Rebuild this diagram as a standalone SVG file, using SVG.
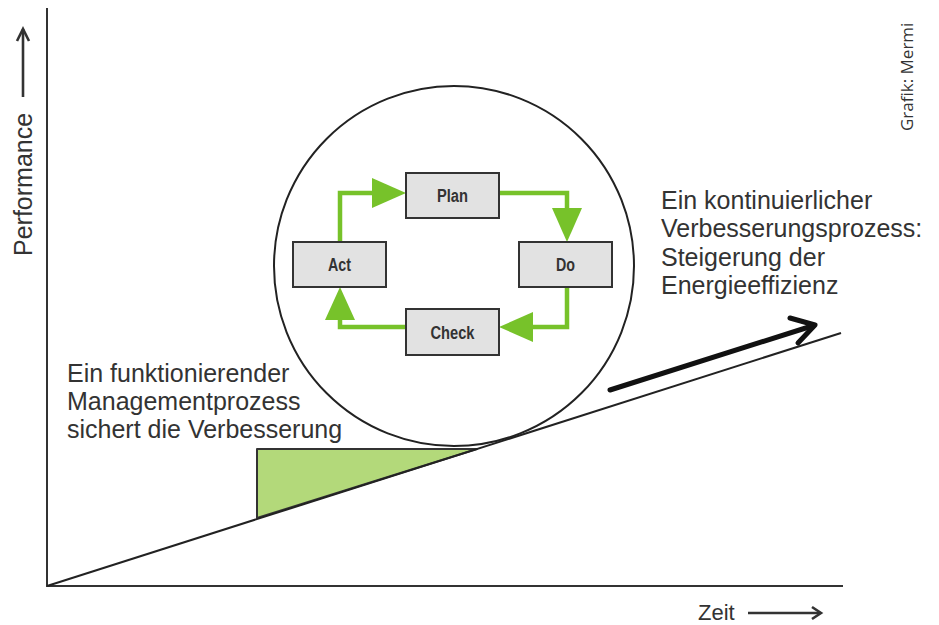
<svg xmlns="http://www.w3.org/2000/svg" width="939" height="625" viewBox="0 0 939 625">
<style>
.lbl{font-family:"Liberation Sans",Arial,sans-serif;font-size:25px;fill:#333}
.box{fill:#e2e2e2;stroke:#333;stroke-width:2}
.bt{font-family:"Liberation Sans",Arial,sans-serif;font-size:18px;font-weight:bold;fill:#333;text-anchor:middle}
.g{fill:none;stroke:#77c22a;stroke-width:4.5}
.gh{fill:#77c22a}
.ax{fill:none;stroke:#333;stroke-width:2}
.ar{fill:none;stroke:#333;stroke-width:2.6}
</style>
<rect width="939" height="625" fill="#fff"/>
<g id="axes">
<polyline class="ax" points="47,8 47,586 843,586"/>
<line class="ar" x1="23" y1="97" x2="23" y2="29"/>
<polyline class="ar" points="17,41 23,29 29,41"/>
<text class="lbl" transform="translate(32,256) rotate(-90)">Performance</text>
<text class="lbl" x="698" y="620" style="font-size:22px">Zeit</text>
<line class="ar" x1="748" y1="613" x2="820" y2="613"/>
<polyline class="ar" points="812,607 821,613 812,619"/>
</g>
<g id="wedge">
<polygon points="257,449 477,449 257,518" fill="#b3d97a" stroke="#333" stroke-width="2" stroke-linejoin="round"/>
</g>
<g id="trend">
<line x1="47" y1="586" x2="841" y2="333" stroke="#222" stroke-width="2"/>
</g>
<g id="circle">
<circle cx="454" cy="266" r="180" fill="none" stroke="#222" stroke-width="2"/>
</g>
<g id="connectors">
<path class="g" d="M340,242 V193 H374"/>
<polygon class="gh" points="406,193 372,178 372,208"/>
<path class="g" d="M499,193 H567 V210"/>
<polygon class="gh" points="567,242 552,208 582,208"/>
<path class="g" d="M567,287 V327 H532"/>
<polygon class="gh" points="499,327 533,312 533,342"/>
<path class="g" d="M406,327 H340 V318"/>
<polygon class="gh" points="340,287 325,320 355,320"/>
</g>
<g id="plan"><rect class="box" x="406" y="173" width="93" height="45"/><text class="bt" x="452.5" y="202" textLength="31" lengthAdjust="spacingAndGlyphs">Plan</text></g>
<g id="do"><rect class="box" x="519" y="242" width="93" height="45"/><text class="bt" x="565.5" y="271" textLength="19" lengthAdjust="spacingAndGlyphs">Do</text></g>
<g id="check"><rect class="box" x="406" y="309" width="93" height="46"/><text class="bt" x="452.5" y="339" textLength="44" lengthAdjust="spacingAndGlyphs">Check</text></g>
<g id="act"><rect class="box" x="293" y="242" width="93" height="45"/><text class="bt" x="339.5" y="271" textLength="23" lengthAdjust="spacingAndGlyphs">Act</text></g>
<g id="big-arrow">
<line x1="610" y1="390" x2="812" y2="326" stroke="#111" stroke-width="5" stroke-linecap="round"/>
<polyline points="790,318 815,325 798,343" fill="none" stroke="#111" stroke-width="5" stroke-linecap="round" stroke-linejoin="round"/>
</g>
<g id="text-left">
<text class="lbl" x="67" y="382">Ein funktionierender</text>
<text class="lbl" x="67" y="410">Managementprozess</text>
<text class="lbl" x="67" y="438">sichert die Verbesserung</text>
</g>
<g id="text-right">
<text class="lbl" x="661" y="209">Ein kontinuierlicher</text>
<text class="lbl" x="661" y="237">Verbesserungsprozess:</text>
<text class="lbl" x="661" y="266">Steigerung der</text>
<text class="lbl" x="661" y="294">Energieeffizienz</text>
</g>
<g id="credit">
<text transform="translate(913,131) rotate(-90)" style="font-family:'Open Sans','Noto Sans',sans-serif;font-size:17px;fill:#333">Grafik: Mermi</text>
</g>
</svg>
